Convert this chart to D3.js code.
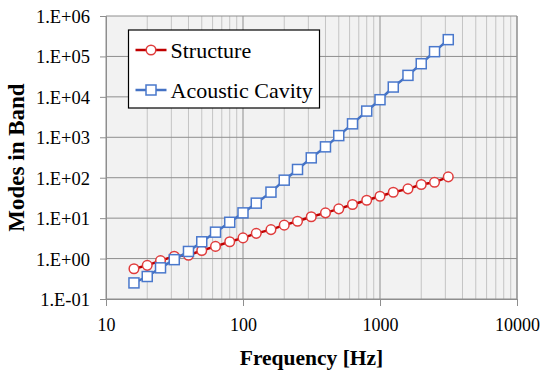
<!DOCTYPE html>
<html>
<head>
<meta charset="utf-8">
<script src="https://cdn.jsdelivr.net/npm/d3@7"></script>
<style>
  body { margin: 0; background: #fff; }
</style>
</head>
<body>
<div id="chart"></div>
<script>
// 1/3-octave band centre frequencies (Hz)
const frequencies = [16, 20, 25, 31.5, 40, 50, 63, 80, 100, 125, 160, 200, 250, 315,
  400, 500, 630, 800, 1000, 1250, 1600, 2000, 2500, 3150];

const structure = [0.56, 0.68, 0.89, 1.14, 1.21, 1.58, 2.0, 2.6, 3.25, 4.2, 5.2, 6.7,
  8.4, 10.8, 13.5, 17, 21.8, 27.7, 34.8, 43.8, 53, 68, 77, 105];

const acousticCavity = [0.25, 0.36, 0.59, 0.94, 1.5, 2.6, 4.5, 7.9, 13.5, 23.5, 44, 87,
  160, 310, 580, 1100, 2150, 4450, 8500, 17500, 34000, 66000, 131000, 260000];

const xTickValues = [10, 100, 1000, 10000];
const yTickValues = [0.1, 1, 10, 100, 1000, 10000, 100000, 1000000];
const yTickLabels = ["1.E-01", "1.E+00", "1.E+01", "1.E+02", "1.E+03", "1.E+04", "1.E+05", "1.E+06"];

const seriesNames = ["Structure", "Acoustic Cavity"];

const FONT = '"Liberation Serif", "Times New Roman", serif';
const MARGIN = { TOP: 16, BOTTOM: 75, LEFT: 106, RIGHT: 25 };
const WIDTH = 542 - MARGIN.LEFT - MARGIN.RIGHT;
const HEIGHT = 374 - MARGIN.TOP - MARGIN.BOTTOM;

const svg = d3.select("#chart")
  .append("svg")
    .attr("width", 542)
    .attr("height", 374)
  .append("g")
    .attr("transform", `translate(${MARGIN.LEFT}, ${MARGIN.TOP})`);

const x = d3.scaleLog().domain([10, 10000]).range([0, WIDTH]);
const y = d3.scaleLog().domain([0.1, 1000000]).range([HEIGHT, 0]);

// plot background
svg.append("rect")
  .attr("width", WIDTH)
  .attr("height", HEIGHT)
  .attr("fill", "#f2f2f2");

// minor x grid
const minorX = [];
for (let d = 10; d < 10000; d *= 10) {
  for (let k = 2; k <= 9; k++) minorX.push(d * k);
}
svg.append("g")
  .selectAll("line")
  .data(minorX)
  .join("line")
    .attr("x1", d => x(d)).attr("x2", d => x(d))
    .attr("y1", 0).attr("y2", HEIGHT)
    .attr("stroke", "#c4c4c4")
    .attr("stroke-width", 1);

// major grid
svg.append("g")
  .selectAll("line")
  .data(xTickValues)
  .join("line")
    .attr("x1", d => x(d)).attr("x2", d => x(d))
    .attr("y1", 0).attr("y2", HEIGHT)
    .attr("stroke", "#8e8e8e");

svg.append("g")
  .selectAll("line")
  .data(yTickValues)
  .join("line")
    .attr("x1", 0).attr("x2", WIDTH)
    .attr("y1", d => y(d)).attr("y2", d => y(d))
    .attr("stroke", "#8e8e8e");

// axes
const xAxis = d3.axisBottom(x)
  .tickValues(xTickValues)
  .tickFormat(d3.format("d"))
  .tickSize(7)
  .tickPadding(12);

const xAxisGroup = svg.append("g")
  .attr("transform", `translate(0, ${HEIGHT})`)
  .call(xAxis);

const yAxis = d3.axisLeft(y)
  .tickValues(yTickValues)
  .tickFormat((d, i) => yTickLabels[i])
  .tickSize(6)
  .tickPadding(10);

const yAxisGroup = svg.append("g").call(yAxis);

[xAxisGroup, yAxisGroup].forEach(g => {
  g.attr("font-family", null);
  g.select(".domain").attr("stroke", "#8e8e8e");
  g.selectAll(".tick line").attr("stroke", "#8e8e8e");
  g.selectAll(".tick text")
    .style("font-family", FONT)
    .style("font-size", "18px")
    .attr("fill", "#000");
});
yAxisGroup.selectAll(".tick text").attr("dy", "0.35em").style("font-size", "18.5px");

// right border
svg.append("line")
  .attr("x1", WIDTH).attr("x2", WIDTH)
  .attr("y1", 0).attr("y2", HEIGHT)
  .attr("stroke", "#8e8e8e");

// series
const line = d3.line()
  .x(d => x(d.f))
  .y(d => y(d.v));

const structData = frequencies.map((f, i) => ({ f, v: structure[i] }));
const cavityData = frequencies.map((f, i) => ({ f, v: acousticCavity[i] }));

svg.append("path")
  .datum(structData)
  .attr("d", line)
  .attr("fill", "none")
  .attr("stroke", "#c00000")
  .attr("stroke-width", 2.5);

svg.append("g")
  .selectAll("circle")
  .data(structData)
  .join("circle")
    .attr("cx", d => x(d.f))
    .attr("cy", d => y(d.v))
    .attr("r", 4.8)
    .attr("fill", "#fff")
    .attr("stroke", "#e03c3c")
    .attr("stroke-width", 1.5);

svg.append("path")
  .datum(cavityData)
  .attr("d", line)
  .attr("fill", "none")
  .attr("stroke", "#4472c4")
  .attr("stroke-width", 2.5);

svg.append("g")
  .selectAll("rect")
  .data(cavityData)
  .join("rect")
    .attr("x", d => x(d.f) - 5)
    .attr("y", d => y(d.v) - 5)
    .attr("width", 10)
    .attr("height", 10)
    .attr("fill", "#fff")
    .attr("stroke", "#4a78cc")
    .attr("stroke-width", 1.5);

// axis titles
svg.append("text")
  .attr("x", WIDTH / 2)
  .attr("y", HEIGHT + 66)
  .attr("text-anchor", "middle")
  .style("font-family", FONT)
  .style("font-weight", "bold")
  .style("font-size", "21.5px")
  .text("Frequency [Hz]");

svg.append("text")
  .attr("transform", "rotate(-90)")
  .attr("x", -(HEIGHT / 2))
  .attr("y", -82)
  .attr("text-anchor", "middle")
  .style("font-family", FONT)
  .style("font-weight", "bold")
  .style("font-size", "23px")
  .text("Modes in Band");

// legend
const legend = svg.append("g")
  .attr("transform", `translate(${128.5 - MARGIN.LEFT}, ${30 - MARGIN.TOP})`);

legend.append("rect")
  .attr("width", 191)
  .attr("height", 78)
  .attr("fill", "#fff")
  .attr("stroke", "#000")
  .attr("stroke-width", 1.2);

const items = legend.selectAll("g.item")
  .data(seriesNames)
  .join("g")
    .attr("class", "item")
    .attr("transform", (d, i) => `translate(0, ${20 + i * 40})`);

items.append("line")
  .attr("x1", 7).attr("x2", 38)
  .attr("stroke", (d, i) => i === 0 ? "#c00000" : "#4472c4")
  .attr("stroke-width", 2.5);

items.filter((d, i) => i === 0)
  .append("circle")
    .attr("cx", 22.5)
    .attr("r", 4.8)
    .attr("fill", "#fff")
    .attr("stroke", "#e03c3c")
    .attr("stroke-width", 1.5);

items.filter((d, i) => i === 1)
  .append("rect")
    .attr("x", 17.5).attr("y", -5)
    .attr("width", 10).attr("height", 10)
    .attr("fill", "#fff")
    .attr("stroke", "#4a78cc")
    .attr("stroke-width", 1.5);

items.append("text")
  .attr("x", 42)
  .attr("dy", "0.35em")
  .style("font-family", FONT)
  .style("font-size", "22px")
  .text(d => d);
</script>
</body>
</html>
